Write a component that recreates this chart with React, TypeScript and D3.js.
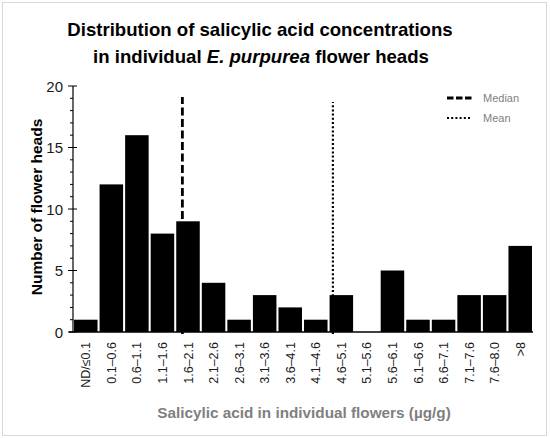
import { useEffect, useRef } from "react";
import * as d3 from "d3";

const categories = [
    "ND/≤0.1", "0.1–0.6", "0.6–1.1", "1.1–1.6", "1.6–2.1", "2.1–2.6",
    "2.6–3.1", "3.1–3.6", "3.6–4.1", "4.1–4.6", "4.6–5.1", "5.1–5.6",
    "5.6–6.1", "6.1–6.6", "6.6–7.1", "7.1–7.6", "7.6–8.0", ">8",
];
const counts = [1, 12, 16, 8, 9, 4, 1, 3, 2, 1, 3, 0, 5, 1, 1, 3, 3, 7];
const yTicks = [0, 5, 10, 15, 20];
// reference lines, position in band units along the category axis
const medianPos = 4.28;
const meanPos = 10.17;
const medianTop = 19.1;
const meanTop = 18.7;

export default function App() {
    const svgRef = useRef<SVGSVGElement>(null);

    useEffect(() => {
        document.body.style.margin = "0";
        if (!svgRef.current) return;
        const svg = d3.select(svgRef.current);
        svg.selectAll("*").remove();

        const width = 550;
        const height = 438;
        const font = "'Liberation Sans', Arial, sans-serif";
        const left = 73, right = 533, top = 86, bottom = 332;

        // outer frame
        svg.append("rect")
            .attr("x", 2.5).attr("y", 2.5)
            .attr("width", width - 6).attr("height", height - 5)
            .style("fill", "#fff")
            .style("stroke", "#d9d9d9");

        const x = d3.scaleBand<string>()
            .domain(categories)
            .range([left, right])
            .paddingInner(0.08)
            .paddingOuter(0.04);

        const y = d3.scaleLinear().domain([0, 20]).range([bottom, top]);
        const unit = (right - left) / categories.length;
        const posX = (p: number) => left + p * unit;

        // median / mean lines (behind bars)
        svg.append("line")
            .attr("x1", posX(medianPos)).attr("x2", posX(medianPos))
            .attr("y1", y(0) + 2).attr("y2", y(medianTop))
            .style("stroke", "#000")
            .style("stroke-width", 2.8)
            .style("stroke-dasharray", "8,3.5");

        svg.append("line")
            .attr("x1", posX(meanPos)).attr("x2", posX(meanPos))
            .attr("y1", y(0) + 2).attr("y2", y(meanTop))
            .style("stroke", "#000")
            .style("stroke-width", 2.2)
            .style("stroke-dasharray", "2,2.2");

        // bars
        svg.append("g")
            .selectAll("rect")
            .data(counts)
            .enter()
            .append("rect")
            .attr("x", (_, i) => x(categories[i])!)
            .attr("y", d => y(d))
            .attr("width", x.bandwidth())
            .attr("height", d => y(0) - y(d))
            .style("fill", "#000");

        // y axis
        const yAxis = svg.append("g").style("stroke", "#000");
        yAxis.append("line")
            .attr("x1", left).attr("x2", left)
            .attr("y1", y(0)).attr("y2", y(20))
            .style("stroke-width", 1.2);
        d3.range(0, 21).forEach(v => {
            const major = v % 5 === 0;
            yAxis.append("line")
                .attr("x1", left - (major ? 5 : 3)).attr("x2", major ? left + 4 : left)
                .attr("y1", y(v)).attr("y2", y(v))
                .style("stroke-width", 1);
        });
        svg.append("g")
            .selectAll("text")
            .data(yTicks)
            .enter()
            .append("text")
            .attr("x", left - 10)
            .attr("y", d => y(d) + 5.5)
            .attr("text-anchor", "end")
            .style("font-family", font)
            .style("font-size", "15px")
            .style("fill", "#1a1a1a")
            .text(d => d);

        // x axis
        svg.append("line")
            .attr("x1", left - 4).attr("x2", right)
            .attr("y1", y(0)).attr("y2", y(0))
            .style("stroke", "#000")
            .style("stroke-width", 1.4);

        svg.append("g")
            .selectAll("text")
            .data(categories)
            .enter()
            .append("text")
            .attr("transform", d => `translate(${x(d)! + x.bandwidth() / 2 + 4.5},342) rotate(-90)`)
            .attr("text-anchor", "end")
            .style("font-family", font)
            .style("font-size", "12.5px")
            .style("fill", "#1a1a1a")
            .text(d => d);

        // axis titles
        svg.append("text")
            .attr("transform", "translate(42,207) rotate(-90)")
            .attr("text-anchor", "middle")
            .style("font-family", font)
            .style("font-size", "15.5px")
            .style("font-weight", "700")
            .style("fill", "#000")
            .text("Number of flower heads");

        svg.append("text")
            .attr("x", 304)
            .attr("y", 418)
            .attr("text-anchor", "middle")
            .style("font-family", font)
            .style("font-size", "15.3px")
            .style("font-weight", "700")
            .style("fill", "#7f7f7f")
            .text("Salicylic acid in individual flowers (µg/g)");

        // title
        const title = svg.append("text")
            .attr("text-anchor", "middle")
            .style("font-family", font)
            .style("font-size", "18.6px")
            .style("font-weight", "700")
            .style("fill", "#000");
        title.append("tspan").attr("x", 260).attr("y", 36)
            .text("Distribution of salicylic acid concentrations");
        const line2 = title.append("tspan").attr("x", 261).attr("y", 63);
        line2.append("tspan").text("in individual ");
        line2.append("tspan").style("font-style", "italic").text("E. purpurea");
        line2.append("tspan").text(" flower heads");

        // legend
        const legend = svg.append("g");
        legend.append("line")
            .attr("x1", 447).attr("x2", 472).attr("y1", 98).attr("y2", 98)
            .style("stroke", "#000").style("stroke-width", 2.8)
            .style("stroke-dasharray", "6.5,2.5");
        legend.append("line")
            .attr("x1", 447).attr("x2", 472).attr("y1", 118).attr("y2", 118)
            .style("stroke", "#000").style("stroke-width", 2.2)
            .style("stroke-dasharray", "2,2.2");
        legend.append("text")
            .attr("x", 483).attr("y", 102)
            .style("font-family", font).style("font-size", "11px")
            .style("fill", "#808080")
            .text("Median");
        legend.append("text")
            .attr("x", 483).attr("y", 122)
            .style("font-family", font).style("font-size", "11px")
            .style("fill", "#808080")
            .text("Mean");
    }, []);

    return <svg ref={svgRef} width={550} height={438} style={{ display: "block" }} />;
}
